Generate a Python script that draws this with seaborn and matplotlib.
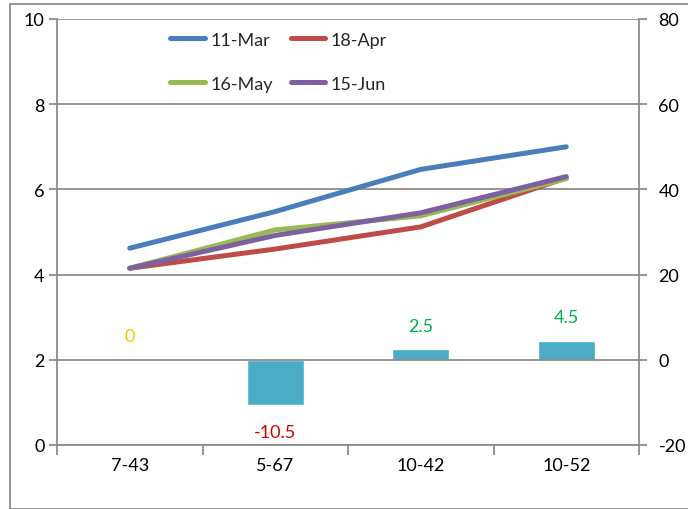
import numpy as np
import pandas as pd
import matplotlib
matplotlib.use("Agg")
import matplotlib.pyplot as plt
from matplotlib.patches import Rectangle
from matplotlib.ticker import FixedLocator, NullFormatter
import seaborn as sns

categories = ["7-43", "5-67", "10-42", "10-52"]
series_names = ["11-Mar", "18-Apr", "16-May", "15-Jun"]
mar11 = [4.62, 5.48, 6.47, 7.0]
apr18 = [4.15, 4.6, 5.12, 6.27]
may16 = [4.15, 5.05, 5.38, 6.25]
jun15 = [4.15, 4.92, 5.45, 6.3]
bar_values = [0, -10.5, 2.5, 4.5]
bar_labels = ["0", "-10.5", "2.5", "4.5"]
label_colors = ["#FFC000", "#D00000", "#00B050", "#00B050"]
line_colors = ["#4A7EBB", "#BE4B48", "#98B954", "#7D60A0"]
bar_color = "#4BACC6"

sns.set_theme(style="white")
plt.rcParams["font.family"] = ["Lato", "DejaVu Sans"]
plt.rcParams["axes.unicode_minus"] = False

fig = plt.figure(figsize=(6.88, 5.10), dpi=100)
ax = fig.add_axes([57/688, 1-446/510, 582/688, 426/510])

pos = np.arange(len(categories))
df = pd.DataFrame({
    "pos": np.tile(pos, 4),
    "value": mar11 + apr18 + may16 + jun15,
    "series": np.repeat(series_names, len(categories)),
})

ax2 = ax.twinx()
sns.barplot(x=categories, y=bar_values, ax=ax2, color=bar_color, width=0.39,
            saturation=1, order=categories)
ax2.set_ylim(-20, 80)

sns.lineplot(data=df, x="pos", y="value", hue="series", hue_order=series_names,
             palette=line_colors, linewidth=3.6, sort=False, ax=ax,
             solid_capstyle="round", solid_joinstyle="round")
ax.set_zorder(ax2.get_zorder() + 1)
ax.patch.set_visible(False)

ax.set_ylim(0, 10)
ax.set_xlim(-0.5, len(categories) - 0.5)
ax2.set_xlim(-0.5, len(categories) - 0.5)
ax.set_yticks([0, 2, 4, 6, 8, 10])
ax2.set_yticks([-20, 0, 20, 40, 60, 80])
ax.set_xticks(pos)
ax.set_xticklabels(categories)
ax.xaxis.set_minor_locator(FixedLocator(np.arange(len(categories) + 1) - 0.5))
ax.xaxis.set_minor_formatter(NullFormatter())
ax.set_xlabel("")
ax.set_ylabel("")
ax2.set_ylabel("")
ax2.set_xlabel("")

grid_c = "#8C8C8C"
ax.yaxis.grid(True, color=grid_c, linewidth=1.3)
ax.set_axisbelow(True)
ax2.xaxis.set_visible(False)

for a in (ax, ax2):
    for s in a.spines.values():
        s.set_color(grid_c)
        s.set_linewidth(1.3)
    a.spines["top"].set_visible(False)
ax.spines["right"].set_visible(False)
ax2.spines["left"].set_visible(False)
ax2.spines["bottom"].set_visible(False)

ax.tick_params(axis="y", which="major", left=True, length=6, width=1.3, color=grid_c,
               labelsize=13, pad=3, labelcolor="black")
ax2.tick_params(axis="y", which="major", right=True, length=6, width=1.3, color=grid_c,
                labelsize=13, pad=8, labelcolor="black")
ax.tick_params(axis="x", which="major", bottom=False, length=0, labelsize=13, pad=9,
               labelcolor="black")
ax.tick_params(axis="x", which="minor", bottom=True, length=7, width=1.3, color=grid_c)

for i, (v, t, c) in enumerate(zip(bar_values, bar_labels, label_colors)):
    off = 17 if v >= 0 else -20
    ax2.annotate(t, xy=(i, v), xytext=(0, off), textcoords="offset points",
                 ha="center", va="center", color=c, fontsize=13)

handles, labels = ax.get_legend_handles_labels()
order = [0, 2, 1, 3]
leg = ax.legend([handles[k] for k in order], [labels[k] for k in order],
                ncol=2, loc="upper left", bbox_to_anchor=(0.195, 0.97), frameon=False,
                fontsize=13, handlelength=1.9, handletextpad=0.3, columnspacing=1.0,
                labelspacing=1.55, borderaxespad=0, borderpad=0)
for h in leg.get_lines():
    h.set_linewidth(3.6)

fig.patches.append(Rectangle((10/688, 0), 2, 1 - 5/510, transform=fig.transFigure,
                             fill=False, edgecolor="#8C8C8C", linewidth=1.3))

fig.savefig("out.png", dpi=100)
